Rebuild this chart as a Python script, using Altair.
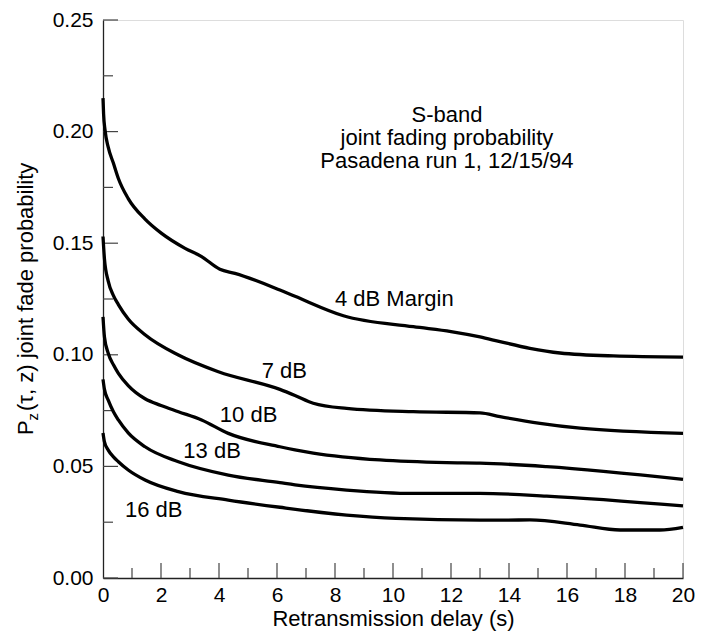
import altair as alt
import pandas as pd

# ---- data ----
x_4 = [0, 0.02, 0.07, 0.18, 0.36, 0.53, 0.87, 1.45, 2.02, 2.83, 3.40, 4.03, 4.55, 6.10, 6.62, 8.29, 10.7, 12.0, 13.0, 13.69, 14.72, 15.76, 17.6, 20]
y_4 = [0.215, 0.208, 0.2007, 0.193, 0.1858, 0.179, 0.170, 0.1608, 0.1544, 0.1477, 0.144, 0.1383, 0.1365, 0.129, 0.1262, 0.1175, 0.1126, 0.1104, 0.108, 0.1059, 0.1029, 0.1008, 0.0995, 0.099]

x_7 = [0, 0.05, 0.18, 0.36, 0.53, 0.87, 1.45, 2.6, 3.98, 6.1, 6.62, 7.25, 8.4, 10.7, 13.0, 13.69, 15.07, 16.45, 20]
y_7 = [0.153, 0.143, 0.133, 0.1265, 0.1225, 0.116, 0.109, 0.0999, 0.0924, 0.0845, 0.0818, 0.0783, 0.0760, 0.0745, 0.0740, 0.0723, 0.0693, 0.0671, 0.0648]

x_10 = [0, 0.05, 0.18, 0.36, 0.53, 0.87, 1.45, 2.0, 2.6, 3.4, 4.32, 6.1, 6.62, 7.25, 9.55, 11.85, 13.0, 15.3, 20]
y_10 = [0.117, 0.108, 0.1007, 0.0955, 0.0917, 0.0862, 0.0803, 0.0773, 0.0745, 0.0708, 0.0648, 0.0588, 0.0574, 0.0560, 0.0529, 0.0517, 0.0515, 0.0499, 0.0442]

x_13 = [0, 0.05, 0.18, 0.36, 0.53, 0.87, 1.45, 2.6, 4.32, 6.1, 6.62, 8.4, 10.7, 13.0, 15.3, 20]
y_13 = [0.089, 0.0845, 0.0797, 0.0745, 0.0708, 0.0650, 0.0588, 0.0521, 0.0461, 0.0427, 0.0417, 0.0394, 0.0379, 0.0379, 0.0367, 0.0323]

x_16 = [0, 0.05, 0.18, 0.36, 0.53, 0.87, 1.45, 2.6, 4.32, 6.1, 8.4, 10.1, 13.0, 14.72, 16.45, 17.83, 19.2, 20]
y_16 = [0.065, 0.061, 0.0573, 0.0543, 0.0521, 0.0484, 0.0439, 0.0387, 0.0349, 0.0317, 0.0282, 0.0267, 0.0259, 0.026, 0.0237, 0.0215, 0.0215, 0.0227]

series_names = ["4 dB", "7 dB", "10 dB", "13 dB", "16 dB"]

curve_labels = ["4 dB Margin", "7 dB", "10 dB", "13 dB", "16 dB"]
curve_label_x = [8.0, 5.47, 4.03, 2.77, 0.76]
curve_label_y = [0.1219, 0.0896, 0.0700, 0.0538, 0.0273]

note_lines = ["S-band", "joint fading probability", "Pasadena run 1, 12/15/94"]
note_x = [11.86, 11.86, 11.86]
note_y = [0.2044, 0.1942, 0.1836]

x_major = [2, 4, 6, 8, 10, 12, 14, 16, 18, 20]
x_minor = [1, 3, 5, 7, 9, 11, 13, 15, 17, 19]
y_major = [0.0, 0.05, 0.10, 0.15, 0.20, 0.25]
y_minor = [0.025, 0.075, 0.125, 0.175, 0.225]
x_labels = [0, 2, 4, 6, 8, 10, 12, 14, 16, 18, 20]

FONT = "Liberation Sans"
W, H = 580, 558

rows = []
for name, xs, ys in zip(series_names, [x_4, x_7, x_10, x_13, x_16], [y_4, y_7, y_10, y_13, y_16]):
    for xv, yv in zip(xs, ys):
        rows.append({"series": name, "x": xv, "y": yv})
curves = pd.DataFrame(rows)

xscale = alt.Scale(domain=[0, 20], nice=False, zero=False)
yscale = alt.Scale(domain=[0, 0.25], nice=False, zero=False)

xaxis = alt.Axis(values=x_labels, format="d", ticks=False, tickSize=0, grid=False,
                 domainColor="#222", domainWidth=1.3, labelFont=FONT, labelFontSize=21,
                 labelColor="black", labelPadding=6, labelFlush=False,
                 title="Retransmission delay (s)", titleFont=FONT, titleFontSize=22,
                 titleFontWeight="normal", titleColor="black", titleY=47, titleX=W / 2,
                 titleAlign="center", titleBaseline="alphabetic")
yaxis = alt.Axis(values=y_major, format=".2f", ticks=False, tickSize=0, grid=False,
                 domainColor="#222", domainWidth=1.3, labelFont=FONT, labelFontSize=21,
                 labelColor="black", labelPadding=10, labelFlush=False, title=None)

lines = alt.Chart(curves).mark_line(color="black", strokeWidth=3.3, interpolate="monotone",
                                    strokeCap="butt").encode(
    x=alt.X("x:Q", scale=xscale, axis=xaxis),
    y=alt.Y("y:Q", scale=yscale, axis=yaxis),
    detail="series:N",
)

tick_color = "#444"
ymaj = alt.Chart(pd.DataFrame({"v": y_major})).mark_rule(color=tick_color, strokeWidth=1.2).encode(
    y=alt.Y("v:Q", scale=yscale), x=alt.value(0), x2=alt.value(15))
ymin = alt.Chart(pd.DataFrame({"v": y_minor})).mark_rule(color=tick_color, strokeWidth=1.2).encode(
    y=alt.Y("v:Q", scale=yscale), x=alt.value(0), x2=alt.value(10))
xmaj = alt.Chart(pd.DataFrame({"v": x_major})).mark_rule(color=tick_color, strokeWidth=1.2).encode(
    x=alt.X("v:Q", scale=xscale), y=alt.value(H), y2=alt.value(H - 15))
xmin = alt.Chart(pd.DataFrame({"v": x_minor})).mark_rule(color=tick_color, strokeWidth=1.2).encode(
    x=alt.X("v:Q", scale=xscale), y=alt.value(H), y2=alt.value(H - 10))

lab_df = pd.DataFrame({"t": curve_labels, "x": curve_label_x, "y": curve_label_y})
labels = alt.Chart(lab_df).mark_text(font=FONT, fontSize=22, align="left", baseline="alphabetic",
                                     color="black").encode(
    x=alt.X("x:Q", scale=xscale), y=alt.Y("y:Q", scale=yscale), text="t:N")

note_df = pd.DataFrame({"t": note_lines, "x": note_x, "y": note_y})
notes = alt.Chart(note_df).mark_text(font=FONT, fontSize=22, align="center", baseline="alphabetic",
                                     color="black").encode(
    x=alt.X("x:Q", scale=xscale), y=alt.Y("y:Q", scale=yscale), text="t:N")

one = alt.Data(values=[{}])
ttl_p = alt.Chart(one).mark_text(text="P", font=FONT, fontSize=22, angle=270, align="left",
                                 baseline="alphabetic", color="black").encode(
    x=alt.value(-69.7), y=alt.value(415))
ttl_z = alt.Chart(one).mark_text(text="z", font=FONT, fontSize=15, angle=270, align="left",
                                 baseline="alphabetic", color="black").encode(
    x=alt.value(-65.5), y=alt.value(400.5))
ttl_rest = alt.Chart(one).mark_text(text="(τ, z) joint fade probability", font=FONT, fontSize=22,
                                    angle=270, align="left", baseline="alphabetic",
                                    color="black").encode(
    x=alt.value(-69.7), y=alt.value(391))

chart = alt.layer(ymaj, ymin, xmaj, xmin, lines, labels, notes, ttl_p, ttl_z, ttl_rest).properties(
    width=W, height=H,
    autosize=alt.AutoSizeParams(type="none"),
    padding={"left": 95, "top": 12, "right": 19, "bottom": 56},
).configure_view(stroke=None).configure(background="white")

chart.save("out.html", embed_options={"renderer": "svg", "actions": False})
